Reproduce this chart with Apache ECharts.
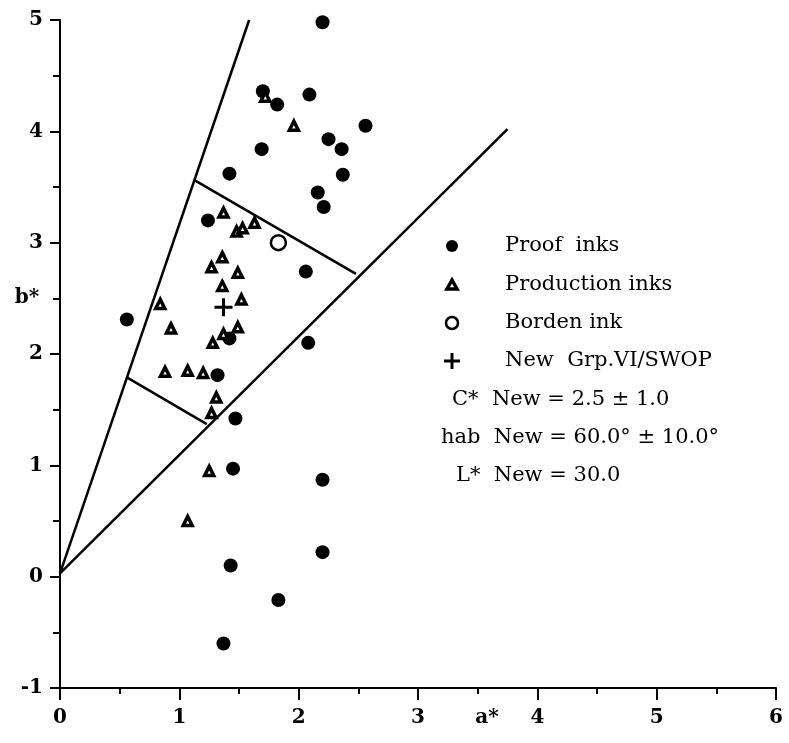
<!DOCTYPE html>
<html>
<head>
<meta charset="utf-8">
<script src="https://cdn.jsdelivr.net/npm/echarts@6/dist/echarts.min.js"></script>
<style>html,body{margin:0;padding:0;background:#fff}#c{width:789px;height:743px}</style>
</head>
<body>
<div id="c"></div>
<script>
// Proof inks (filled circles) [a*, b*]
var proofInks = [
  [2.20,4.98],[1.70,4.36],[1.82,4.24],[2.09,4.33],[2.56,4.05],[2.25,3.93],
  [2.36,3.84],[1.69,3.84],[2.37,3.61],[1.42,3.62],[2.16,3.45],[2.21,3.32],
  [1.24,3.20],[2.06,2.74],[0.56,2.31],[2.08,2.10],[1.42,2.14],[1.32,1.81],
  [1.47,1.42],[1.45,0.97],[2.20,0.87],[1.43,0.10],[2.20,0.22],[1.83,-0.21],
  [1.37,-0.60]
];
// Production inks (triangles)
var productionInks = [
  [1.72,4.31],[1.96,4.05],[1.37,3.27],[1.48,3.10],[1.53,3.13],[1.63,3.18],
  [1.36,2.87],[1.27,2.78],[1.49,2.73],[1.36,2.61],[1.52,2.49],[0.84,2.45],
  [0.93,2.23],[1.37,2.18],[1.49,2.24],[1.28,2.10],[0.88,1.84],[1.07,1.85],
  [1.20,1.83],[1.31,1.61],[1.27,1.47],[1.25,0.95],[1.07,0.50]
];
var bordenInk = [[1.83,3.00]];
var newGrpVI = [[1.37,2.42]];
// Tolerance region boundary lines
var hueUpperLine = [[0,0.03],[1.585,5.0]];
var hueLowerLine = [[0,0.03],[3.75,4.02]];
var chromaMaxLine = [[1.13,3.56],[2.48,2.72]];
var chromaMinLine = [[0.56,1.79],[1.23,1.37]];
var xTicks = [0,1,2,3,4,5,6];
var yTicks = [-1,0,1,2,3,4,5];
var legendLabels = ['Proof  inks','Production inks','Borden ink','New  Grp.VI/SWOP'];
var noteLabels = ['C*  New = 2.5 \u00b1 1.0','hab  New = 60.0\u00b0 \u00b1 10.0\u00b0','L*  New = 30.0'];

var serif = '"DejaVu Serif", "Liberation Serif", serif';
var chart = echarts.init(document.getElementById('c'));
function lineSeries(d){
  return {type:'line',data:d,symbol:'none',silent:true,clip:false,
    lineStyle:{color:'#000',width:2.5},z:1};
}
var plusPath = 'path://M7.5,0h3v7.5h7.5v3h-7.5v7.5h-3v-7.5h-7.5v-3h7.5z';
var legendTop = [246,285,323,361];
var noteTop = [400,438,476];
var graphics = [];
var lx = 452;
graphics.push({type:'circle',shape:{cx:lx,cy:legendTop[0],r:6},style:{fill:'#000'}});
graphics.push({type:'polygon',shape:{points:[[lx,legendTop[1]-5],[lx+5,legendTop[1]+4],[lx-5,legendTop[1]+4]]},style:{fill:'#fff',stroke:'#000',lineWidth:3.5}});
graphics.push({type:'circle',shape:{cx:lx,cy:legendTop[2],r:6},style:{fill:'#fff',stroke:'#000',lineWidth:2.5}});
graphics.push({type:'rect',shape:{x:lx-8,y:legendTop[3]-1.5,width:16,height:3},style:{fill:'#000'}});
graphics.push({type:'rect',shape:{x:lx-1.5,y:legendTop[3]-8,width:3,height:16},style:{fill:'#000'}});
legendLabels.forEach(function(t,i){
  graphics.push({type:'text',x:505,y:legendTop[i],style:{text:t,font:'21px '+serif,fill:'#000',verticalAlign:'middle',align:'left'}});
});
var noteX = [452,441,456];
noteLabels.forEach(function(t,i){
  graphics.push({type:'text',x:noteX[i],y:noteTop[i],style:{text:t,font:'21px '+serif,fill:'#000',verticalAlign:'middle',align:'left'}});
});
graphics.push({type:'text',x:487,y:718,style:{text:'a*',font:'bold 20px '+serif,fill:'#000',verticalAlign:'middle',align:'center'}});
graphics.push({type:'text',x:27,y:298,style:{text:'b*',font:'bold 20px '+serif,fill:'#000',verticalAlign:'middle',align:'center'}});

chart.setOption({
  animation:false,
  backgroundColor:'#fff',
  grid:{left:60,right:13,top:20,bottom:55},
  xAxis:{type:'value',min:xTicks[0],max:xTicks[xTicks.length-1],interval:1,
    axisLine:{show:true,onZero:false,lineStyle:{color:'#000',width:2}},
    axisTick:{show:true,length:12,lineStyle:{color:'#000',width:2}},
    minorTick:{show:true,splitNumber:2,length:6,lineStyle:{color:'#000',width:2}},
    splitLine:{show:false},
    axisLabel:{margin:20,color:'#000',fontFamily:serif,fontWeight:'bold',fontSize:20}},
  yAxis:{type:'value',min:yTicks[0],max:yTicks[yTicks.length-1],interval:1,
    axisLine:{show:true,onZero:false,lineStyle:{color:'#000',width:2}},
    axisTick:{show:true,length:10,lineStyle:{color:'#000',width:2}},
    minorTick:{show:true,splitNumber:2,length:7,lineStyle:{color:'#000',width:2}},
    splitLine:{show:false},
    axisLabel:{margin:17,color:'#000',fontFamily:serif,fontWeight:'bold',fontSize:20}},
  graphic:graphics,
  series:[
    lineSeries(hueUpperLine),lineSeries(hueLowerLine),lineSeries(chromaMaxLine),lineSeries(chromaMinLine),
    {name:'Proof inks',type:'scatter',data:proofInks,symbol:'circle',symbolSize:14,itemStyle:{color:'#000',opacity:1},z:3},
    {name:'Production inks',type:'scatter',data:productionInks,symbol:'triangle',symbolSize:9,
      itemStyle:{color:'#fff',borderColor:'#000',borderWidth:3.5,opacity:1},z:4},
    {name:'Borden ink',type:'scatter',data:bordenInk,symbol:'circle',symbolSize:15,
      itemStyle:{color:'#fff',borderColor:'#000',borderWidth:2.5,opacity:1},z:4},
    {name:'New Grp.VI/SWOP',type:'scatter',data:newGrpVI,symbol:plusPath,symbolSize:18,itemStyle:{color:'#000',opacity:1},z:4}
  ]
});
</script>
</body>
</html>
